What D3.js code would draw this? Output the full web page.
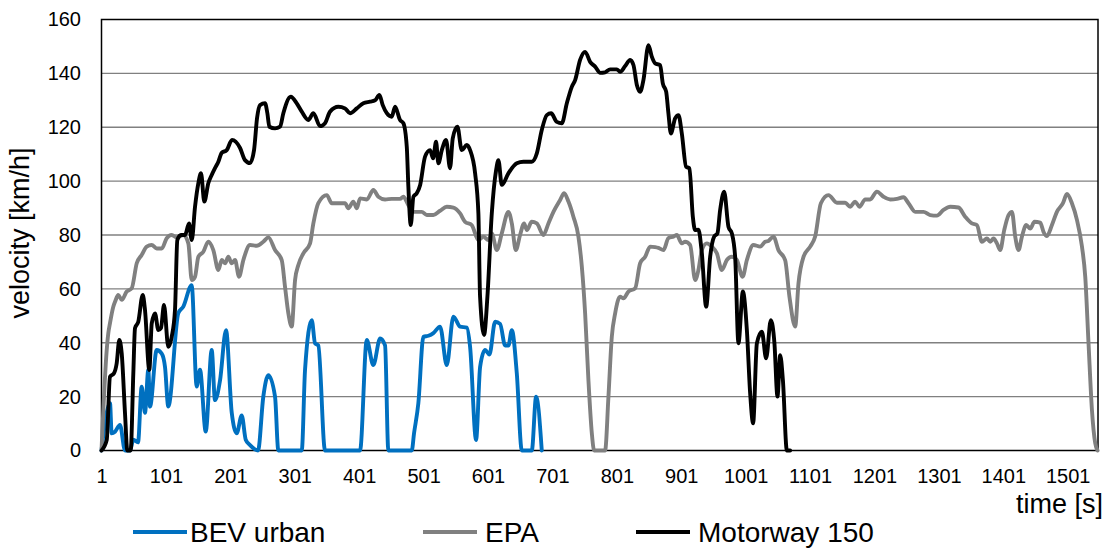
<!DOCTYPE html>
<html><head><meta charset="utf-8">
<script src="https://cdn.jsdelivr.net/npm/d3@7"></script>
<style>
html,body{margin:0;padding:0;background:#fff;}
svg text{font-family:Arial,"Liberation Sans",sans-serif;fill:#000;}
</style></head>
<body><svg id="c" width="1109" height="548"></svg>
<script>
// ---- data (time [s], velocity [km/h]) ----
const seriesNames = ["BEV urban", "EPA", "Motorway 150"];
const seriesColors = ["#0070C0", "#808080", "#000000"];
const xTicks = [1,101,201,301,401,501,601,701,801,901,1001,1101,1201,1301,1401,1501];
const yTicks = [0,20,40,60,80,100,120,140,160];

const bevUrban = [[1,0],[14.2,17.6],[16.8,6.4],[22,7],[29.7,9.5],[37.5,0],[45.3,0],[50.4,4],[57.7,3],[63.4,23.7],[68.5,14],[73.7,30],[76.3,16.3],[86.7,37.3],[94.5,36],[99.6,31],[104.7,16.3],[120.3,51],[128,53.4],[141,61.4],[148.8,23.7],[153.9,30],[162.8,7],[172.1,37.3],[177.2,18.7],[185,26],[194.3,44.7],[203.2,14],[210.9,6.4],[218.7,13],[224.9,4],[231.6,2],[244,0],[252.2,20],[260,28],[270.4,20],[275.5,0],[311.9,0],[317,30],[327.4,48.4],[332.5,39.8],[337.6,39],[348,0],[402.4,0],[412.8,41],[423,31.7],[433.5,41.6],[441.2,39],[446.3,0],[482.7,0],[486.2,6.4],[492.9,17.6],[500.7,42.2],[508.5,42.6],[516.2,43.6],[526.6,46],[537,31.7],[547.3,49.7],[557.7,46],[568.1,45.6],[573.2,38.5],[582.5,3.9],[588.8,31.1],[596.5,37.3],[603.2,35.6],[612.1,47.8],[619.8,47],[627.6,39],[632.7,39],[638,44.7],[645.7,28.7],[653.5,0],[669,0],[675.7,20],[684.5,0]];

const epa = [[1,0],[9.1,37.3],[11.6,43.6],[14.2,47.3],[19.3,53.4],[22,55.2],[27.1,57.7],[32.4,55.9],[40.1,59],[47.9,60.2],[55.7,69.5],[63.4,72.6],[71.2,75.7],[78.9,76.3],[86.7,75],[94.5,75],[102.2,78.8],[110,80],[117.8,79.1],[128,80],[135.8,76.9],[141.1,63.3],[146.2,64.5],[151.3,71.9],[159.1,73.8],[166.8,77.5],[174.6,74.4],[182.4,67],[187.6,70.7],[192.8,69.5],[197.9,71.9],[203.2,69.5],[208.3,70.7],[214.5,64.5],[221.2,70.7],[231.6,76.3],[242,76],[252.2,77.5],[260,79.1],[270.4,74.4],[280.8,70.7],[285.9,60.8],[291.1,50.9],[296.3,46],[301.5,63.3],[306.6,68.9],[314.4,73.2],[324.8,76.9],[329.9,84.3],[337.6,91.8],[350.7,94.8],[358.5,91.8],[368.7,91.8],[379.1,91.8],[384.2,89.9],[392,92.4],[397.3,89.9],[402.4,93.6],[412.8,93.2],[423.1,96.7],[430.8,94.2],[441.2,93.2],[451.6,93.4],[464.5,93.4],[469.6,94.2],[477.4,91.1],[485.2,88.6],[498.2,88.6],[506,87.4],[516.2,87.4],[526.6,89],[537,90.5],[547.3,90.2],[557.7,88],[565.4,84.9],[575.8,83.7],[586.1,78.1],[593.9,79.4],[601.6,78.1],[606.9,80.6],[614.7,74.4],[622.4,80.6],[632.7,88.6],[638,84.3],[644.2,74.4],[650.8,80],[657.1,84.3],[661.3,81.8],[669,84.9],[676.8,84.3],[687,80],[694.8,84.3],[702.6,88.6],[713,93],[719.2,95.5],[725.9,92.4],[733.6,86.8],[741.4,79.4],[746.7,68.2],[751.8,50.9],[756.9,26.2],[762.2,6.4],[765.8,0],[782.8,0],[788,20],[793.2,42.2],[798.4,50.9],[806.1,57.1],[811.3,56.5],[819,59],[829.4,60.2],[837.2,69.5],[845,71.9],[852.7,75.7],[860.5,75.5],[865.6,75.2],[873.4,74.4],[881.1,78.8],[888.9,79.4],[894.2,80],[901.9,76.9],[907.1,77.5],[914.8,76.3],[922.6,63.3],[927.7,67],[933,74.4],[940.8,76.9],[948.5,75.7],[956.3,73.2],[964,67],[971.8,70.7],[979.6,71.9],[987.3,70.7],[996.3,64.5],[1002.9,70.7],[1013.1,76.3],[1023.5,75.7],[1031.3,77.5],[1036.4,77.8],[1044.2,79.4],[1051.9,74.4],[1062.3,70.7],[1069,57.1],[1077.9,46],[1083,62],[1090.8,71.9],[1101.2,75.7],[1108.9,79.4],[1117.8,91.8],[1129.6,94.8],[1142.6,92],[1155.5,92],[1163.3,90.5],[1171,92.4],[1177.7,90.5],[1186.6,93.2],[1194.3,93.2],[1204.7,96.1],[1215,94.2],[1225.4,93.2],[1235.8,93.4],[1246,94],[1253.8,91.8],[1264.2,88.6],[1277.1,88.6],[1287.5,87.4],[1297.9,87.2],[1308.2,89.3],[1318.6,90.5],[1331.4,90.2],[1341.8,86.8],[1352.2,84.3],[1360,83.7],[1367.8,77.5],[1375.5,78.7],[1380.7,77.5],[1385.8,78.7],[1391.1,76.9],[1396.2,74.4],[1402.4,81.8],[1409.1,87.4],[1414.4,88.6],[1419.5,79.4],[1424.6,74.4],[1429.9,79.4],[1436.6,83.7],[1442.8,82.4],[1449.4,84.9],[1458.3,84.6],[1463.4,81.2],[1468.7,79.6],[1476.5,83.7],[1484.2,88.6],[1493.6,91.8],[1499.8,95.2],[1507.5,91.8],[1515.3,85.6],[1523.1,75.7],[1528.2,64.5],[1533.3,39.8],[1538.6,15],[1543.7,2.7],[1547.3,0]];

const motorway150 = [[1,0],[9.1,3.9],[14.2,27.4],[20.4,28.7],[24.6,32.4],[28.6,41],[32.4,36],[37.5,13.8],[41.1,0],[46.3,0],[50.4,28.7],[53,45.4],[58.1,47.8],[65,57.7],[68.5,52.2],[75.2,29.9],[79,47.2],[84.1,50.9],[89.2,44.7],[93.4,45.5],[98,54],[104.7,38.5],[110,42.2],[115.1,52.2],[118.7,78.1],[124.4,80],[130.7,80],[136.9,84.3],[141.1,78.1],[146.2,90.5],[151.3,99.2],[155.5,102.9],[160.6,92.4],[166.8,99.2],[172.1,102.3],[177.2,104.8],[182.4,107.2],[187.6,110.5],[195.4,111.5],[203.6,115.3],[216.1,112.3],[223.8,107.8],[231.6,106.7],[237.8,111.5],[242.5,123.4],[247.1,128.2],[254.9,128.9],[258.5,125.2],[261.6,120.2],[270.4,119.6],[278.2,120.2],[283.3,125.2],[294.8,131.3],[304.1,128.9],[311.9,125.8],[322.1,122.7],[329.9,125.2],[340.3,120.4],[348,121.5],[355.8,125.8],[368.7,127.6],[379.1,127],[386.9,125.2],[397.3,127],[407.5,128.9],[417.9,129.5],[425.7,130],[432.4,132],[437.6,128.2],[443.9,125.2],[451.6,123.9],[456.7,127.6],[464.5,122.7],[469.6,121.5],[474.9,112.8],[477.4,97.9],[481.1,83.7],[485.2,94.2],[490.4,95.5],[495.6,98.5],[503.3,109.1],[511.1,111.5],[515.8,108.5],[520.4,114.6],[524,106.6],[529.3,111.5],[535.9,115.3],[542.1,104.8],[546.3,115.9],[553.5,120.2],[560.3,111.5],[568.1,113.4],[573.2,111.5],[581,102.9],[586.1,88],[588.7,57.1],[594.9,42.9],[600.1,57.1],[606.9,88],[613.6,104.1],[617.2,107.8],[622.4,98.6],[632.7,102.9],[645.7,106.6],[656,107.2],[669,107.2],[676.8,110.3],[684.5,119],[692.3,124.5],[699,125.2],[707.8,122],[715.6,121.5],[723.4,128.9],[731.1,135],[736.3,137.5],[744,145],[751.8,148],[759.5,144.3],[767.3,142.5],[775.1,140.2],[782.8,140.4],[790.6,141.5],[801,141.5],[806.1,140.6],[813.9,142.7],[821.7,145],[826.8,143.1],[832.1,135.7],[837.2,133.2],[842.3,137.5],[850.1,150.5],[855.3,146.2],[860.5,143.7],[868.2,143.1],[872.4,136.3],[877.6,133.2],[881.1,125.2],[884.9,117.7],[891.5,123.3],[896.7,124.5],[901.9,117.7],[908.6,105.3],[913.7,104.8],[919,86.8],[922.6,81.8],[927.7,82],[933,73.2],[939.7,53.4],[945.9,71.9],[952.1,79.4],[957.2,80.6],[961.4,89.3],[967.6,96.1],[974.3,83.1],[979.6,80.6],[984.7,71.9],[989.8,39.8],[996.7,59],[1002.9,44.7],[1008,21.2],[1012.6,10.1],[1018.4,39.8],[1026.2,44.1],[1032.8,34.2],[1040.1,48.4],[1045.7,39.8],[1050.4,20],[1054.6,35.4],[1058.8,26.2],[1065,0],[1070.1,0]];

const seriesData = [bevUrban, epa, motorway150];

// ---- layout ----
const svg = d3.select("#c");
const L = 101.5, R = 1098, T = 19.5, B = 450.5;
const x = d3.scaleLinear().domain([1, 1548]).range([L, R]);
const y = d3.scaleLinear().domain([0, 160]).range([B, T]);

// gridlines
svg.append("g").selectAll("line").data(yTicks.filter(v => v > 0 && v < 160)).join("line")
  .attr("x1", L).attr("x2", R).attr("y1", d => y(d)).attr("y2", d => y(d))
  .attr("stroke", "#808080").attr("stroke-width", 1.4);

// plot border
svg.append("rect").attr("x", L).attr("y", T).attr("width", R - L).attr("height", B - T)
  .attr("fill", "none").attr("stroke", "#000").attr("stroke-width", 1.5);

// axes
const xAxis = d3.axisBottom(x).tickValues(xTicks).tickSize(0).tickPadding(18).tickFormat(d3.format("d"));
const gx = svg.append("g").attr("transform", `translate(0,${B})`).call(xAxis);
gx.select(".domain").remove();
gx.selectAll("text").attr("font-size", 20).attr("font-family", "Arial, 'Liberation Sans', sans-serif");

const yAxis = d3.axisLeft(y).tickValues(yTicks).tickSize(0).tickPadding(20.5).tickFormat(d3.format("d"));
const gy = svg.append("g").attr("transform", `translate(${L},0)`).call(yAxis);
gy.select(".domain").remove();
gy.selectAll("text").attr("font-size", 20).attr("font-family", "Arial, 'Liberation Sans', sans-serif");

// lines
const line = d3.line().x(d => x(d[0])).y(d => y(d[1])).curve(d3.curveMonotoneX);
const clip = svg.append("clipPath").attr("id", "pc").append("rect")
  .attr("x", L - 3).attr("y", T - 3).attr("width", R - L + 6).attr("height", B - T + 6);
seriesData.forEach((data, i) => {
  svg.append("path").datum(data).attr("d", line)
    .attr("fill", "none").attr("stroke", seriesColors[i]).attr("stroke-width", 3.9)
    .attr("stroke-linejoin", "round").attr("stroke-linecap", "round")
    .attr("clip-path", "url(#pc)");
});

// axis titles
svg.append("text").attr("transform", "translate(29,233) rotate(-90)")
  .attr("text-anchor", "middle").attr("font-size", 27).text("velocity [km/h]");
svg.append("text").attr("x", 1103).attr("y", 513).attr("text-anchor", "end")
  .attr("font-size", 27).text("time [s]");

// legend
const legX = [133, 423, 636];
seriesNames.forEach((name, i) => {
  const g = svg.append("g").attr("transform", `translate(${legX[i]},532)`);
  g.append("line").attr("x1", 0).attr("x2", 54).attr("y1", 0).attr("y2", 0)
    .attr("stroke", seriesColors[i]).attr("stroke-width", 3.9);
  g.append("text").attr("x", i === 0 ? 57 : 62).attr("y", 10).attr("font-size", 28).text(name);
});
</script></body></html>
